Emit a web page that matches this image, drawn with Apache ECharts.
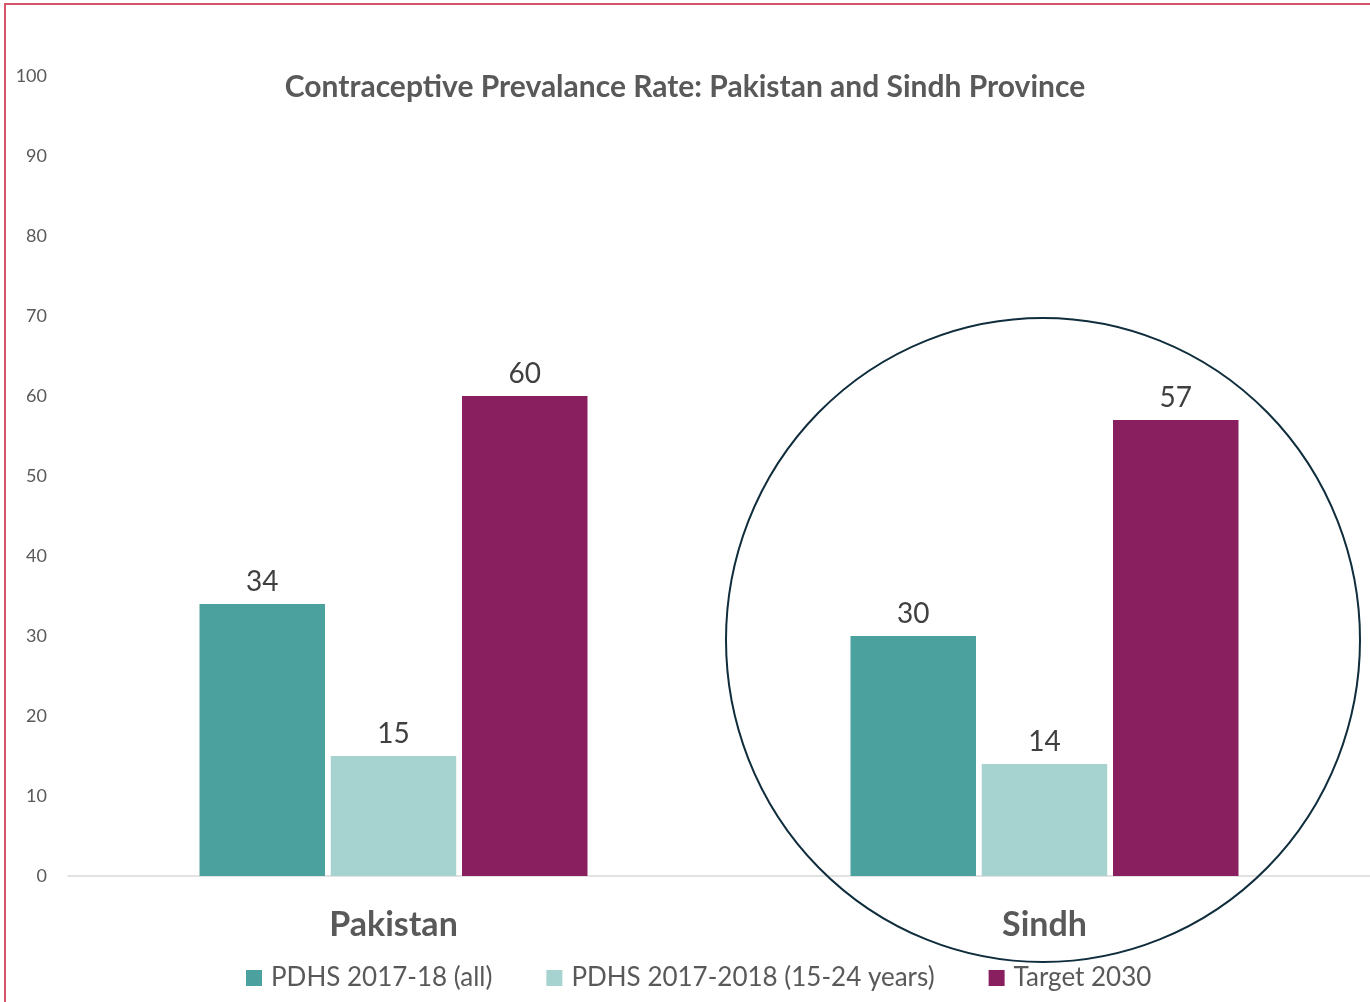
<!DOCTYPE html>
<html>
<head>
<meta charset="utf-8">
<script src="https://cdn.jsdelivr.net/npm/echarts@6/dist/echarts.min.js"></script>
<style>
html,body{margin:0;padding:0;background:#fff;}
#chart{width:1370px;height:1002px;}
</style>
</head>
<body>
<div id="chart"></div>
<script>
const titleText = 'Contraceptive Prevalance Rate: Pakistan and Sindh Province';
const categories = ['Pakistan', 'Sindh'];
const seriesNames = ['PDHS 2017-18 (all)', 'PDHS 2017-2018 (15-24 years)', 'Target 2030'];
const pdhsAll = [34, 30];
const pdhsYouth = [15, 14];
const target2030 = [60, 57];
const seriesColors = ['#4BA19E', '#A6D3CF', '#8A1F5F'];

const FONT = 'Lato, "Open Sans", sans-serif';
const chart = echarts.init(document.getElementById('chart'));

const dataSets = [pdhsAll, pdhsYouth, target2030];
const series = dataSets.map((d, i) => ({
  name: seriesNames[i],
  type: 'bar',
  data: d,
  barGap: '4.6%',
  barCategoryGap: '40.4%',
  itemStyle: { color: seriesColors[i] },
  label: {
    show: true, position: 'top', distance: 8,
    color: '#404040', fontSize: 28, fontFamily: FONT
  }
}));

chart.setOption({
  animation: false,
  backgroundColor: '#fff',
  title: {
    text: titleText, left: 680, top: 67, textAlign: 'center',
    textStyle: { color: '#595959', fontSize: 30, fontWeight: 'bold', fontFamily: FONT }
  },
  legend: {
    bottom: 11, left: 246, padding: 0,
    itemWidth: 16, itemHeight: 16, itemGap: 54,
    icon: 'rect',
    textStyle: { color: '#595959', fontSize: 26, fontFamily: FONT, padding: [0,0,0,4] },
    data: seriesNames
  },
  grid: { left: 68, right: 0, top: 76, bottom: 126, containLabel: false },
  xAxis: {
    type: 'category', data: categories,
    axisLine: { show: true, lineStyle: { color: '#d9d9d9', width: 1.5 } },
    axisTick: { show: false },
    axisLabel: { color: '#595959', fontSize: 34, fontWeight: 'bold', fontFamily: FONT, margin: 32 }
  },
  yAxis: {
    type: 'value', min: 0, max: 100, interval: 10,
    axisLine: { show: false }, axisTick: { show: false },
    splitLine: { show: false },
    axisLabel: { color: '#595959', fontSize: 18, fontFamily: FONT, margin: 21 }
  },
  series: series,
  graphic: [
    { type: 'rect', shape: { x: 5, y: 4, width: 1400, height: 1100 },
      style: { fill: 'none', stroke: '#D4546A', lineWidth: 2 }, z: 100 },
    { type: 'circle', x: 1043, y: 640, scaleY: 322/317,
      shape: { cx: 0, cy: 0, r: 317 },
      style: { fill: 'none', stroke: '#0F2D3C', lineWidth: 2 }, z: 100 }
  ]
});
</script>
</body>
</html>
